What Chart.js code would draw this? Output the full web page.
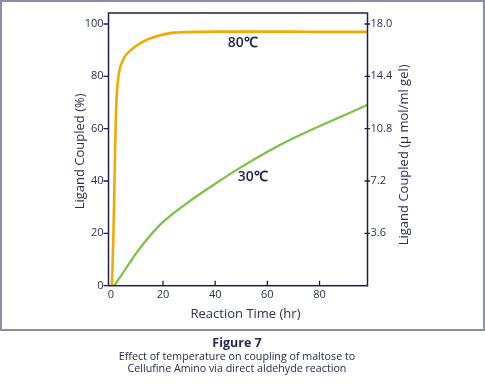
<!DOCTYPE html>
<html>
<head>
<meta charset="utf-8">
<script src="https://cdn.jsdelivr.net/npm/chart.js@4"></script>
<style>
  html, body { margin: 0; padding: 0; background: #fff; }
  #wrap { position: relative; width: 485px; height: 384px; }
  #frame { position: absolute; left: 0; top: 0; width: 485px; height: 331px; box-sizing: border-box; border: 2px solid #8d8dab; }
  canvas { position: absolute; left: 0; top: 0; }
  #cap { position: absolute; left: 0; top: 334.5px; width: 474px; text-align: center; font-family: "Open Sans", sans-serif; color: #232a5a; font-size: 10.7px; line-height: 12.7px; }
  #cap b { font-size: 12.5px; display: block; line-height: 15px; }
</style>
</head>
<body>
<div id="wrap">
  <div id="frame"></div>
  <canvas id="c" width="485" height="384"></canvas>
  <div id="cap"><b>Figure 7</b>Effect of temperature on coupling of maltose to<br>Cellufine Amino via direct aldehyde reaction</div>
</div>
<script>
// ---- data ----
const time80 = [0.4, 1.0, 1.4, 1.8, 2.2, 2.8, 4.7, 7.9, 12.4, 18.2, 23.3, 28.4, 40, 50, 60, 70, 80, 90, 98.4];
const coupled80 = [0, 20, 40, 60, 72, 79.3, 86.3, 90.2, 93.3, 95.5, 96.6, 96.9, 97.1, 97.1, 97.1, 97.1, 97.0, 97.0, 97.0];
const time30 = [1.3, 5.4, 9.2, 13.1, 19.5, 29.1, 39.3, 49.5, 59.7, 69.9, 80.1, 98.4];
const coupled30 = [0, 6.0, 11.7, 16.8, 23.9, 31.5, 38.5, 45.0, 51.0, 56.3, 61.0, 69.1];
const xTicks = [0, 20, 40, 60, 80];
const yLeftTicks = [0, 20, 40, 60, 80, 100];
const yRightTicks = [3.6, 7.2, 10.8, 14.4, 18.0];
const curveLabels = ["80℃", "30℃"];
const curveLabelX = [50.6, 54.4];
const curveLabelY = [92.9, 41.7];
const umolPerPercent = 0.18;
const xTitle = 'Reaction Time (hr)';
const yLeftTitle = 'Ligand Coupled (%)';
const yRightTitle = 'Ligand Coupled (μ mol/ml gel)';

const FONT = '"Open Sans", sans-serif';
const TXT = '#2a2f5c';
const AXIS = '#1c2048';

function toPts(xs, ys) { return xs.map((x, i) => ({ x: x, y: ys[i] })); }
function setTicks(arr) { return function (scale) { scale.ticks = arr.map(v => ({ value: v })); }; }

const framePlugin = {
  id: 'frameTicks',
  afterDatasetsDraw(chart) {
    const { ctx, chartArea: a, scales } = chart;
    ctx.save();
    ctx.strokeStyle = AXIS;
    ctx.lineWidth = 1.5;
    ctx.strokeRect(a.left, a.top, a.right - a.left, a.bottom - a.top);
    ctx.lineWidth = 1.3;
    ctx.beginPath();
    yLeftTicks.forEach(v => { const p = scales.y.getPixelForValue(v); ctx.moveTo(a.left - 5, p); ctx.lineTo(a.left, p); });
    yRightTicks.forEach(v => { const p = scales.y2.getPixelForValue(v); ctx.moveTo(a.right - 3, p); ctx.lineTo(a.right + 2.5, p); });
    xTicks.filter(v => v !== 0).forEach(v => { const p = scales.x.getPixelForValue(v); ctx.moveTo(p, a.bottom); ctx.lineTo(p, a.bottom - 5); });
    ctx.stroke();
    // curve labels
    ctx.fillStyle = '#1c2454';
    ctx.font = '600 14px ' + FONT;
    ctx.textAlign = 'center';
    ctx.textBaseline = 'middle';
    curveLabels.forEach((t, i) => {
      ctx.fillText(t, scales.x.getPixelForValue(curveLabelX[i]), scales.y.getPixelForValue(curveLabelY[i]));
    });
    // axis titles
    ctx.fillStyle = TXT;
    ctx.font = '13px ' + FONT;
    ctx.fillText(xTitle, a.left + 137, scales.x.bottom - 8);
    ctx.save();
    ctx.translate(scales.y.left + 8, (a.top + a.bottom) / 2 + 2);
    ctx.rotate(-Math.PI / 2);
    ctx.fillText(yLeftTitle, 0, 0);
    ctx.restore();
    ctx.save();
    ctx.translate(scales.y2.right - 8, (a.top + a.bottom) / 2 + 5.5);
    ctx.rotate(-Math.PI / 2);
    ctx.fillText(yRightTitle, 0, 0);
    ctx.restore();
    ctx.restore();
  }
};

new Chart(document.getElementById('c'), {
  type: 'scatter',
  data: {
    datasets: [
      { data: toPts(time80, coupled80), showLine: true, borderColor: '#f2a900', borderWidth: 2.6, pointRadius: 0, cubicInterpolationMode: 'monotone', yAxisID: 'y' },
      { data: toPts(time30, coupled30), showLine: true, borderColor: '#7cc242', borderWidth: 2.2, pointRadius: 0, cubicInterpolationMode: 'monotone', yAxisID: 'y' }
    ]
  },
  options: {
    responsive: false,
    animation: false,
    devicePixelRatio: 1,
    layout: { padding: { left: 72, right: 73, top: 13, bottom: 62 } },
    plugins: { legend: { display: false }, tooltip: { enabled: false } },
    scales: {
      x: {
        type: 'linear', min: -0.9, max: 98.4,
        afterBuildTicks: setTicks(xTicks),
        afterFit(s) { s.height = 36.3; },
        grid: { display: false, drawTicks: false },
        border: { display: false },
        ticks: { color: TXT, font: { family: FONT, size: 11 }, padding: 3, maxRotation: 0 }
      },
      y: {
        type: 'linear', position: 'left', min: 0, max: 104.2,
        afterBuildTicks: setTicks(yLeftTicks),
        afterFit(s) { s.width = 36.5; },
        grid: { display: false, drawTicks: false },
        border: { display: false },
        ticks: { color: TXT, font: { family: FONT, size: 11 }, padding: 5 }
      },
      y2: {
        type: 'linear', position: 'right', min: 0, max: 104.2 * umolPerPercent,
        afterBuildTicks: setTicks(yRightTicks),
        afterFit(s) { s.width = 44.5; },
        grid: { display: false, drawTicks: false },
        border: { display: false },
        ticks: { color: TXT, font: { family: FONT, size: 11 }, padding: 3, callback: v => v.toFixed(1) }
      }
    }
  },
  plugins: [framePlugin]
});
</script>
</body>
</html>
